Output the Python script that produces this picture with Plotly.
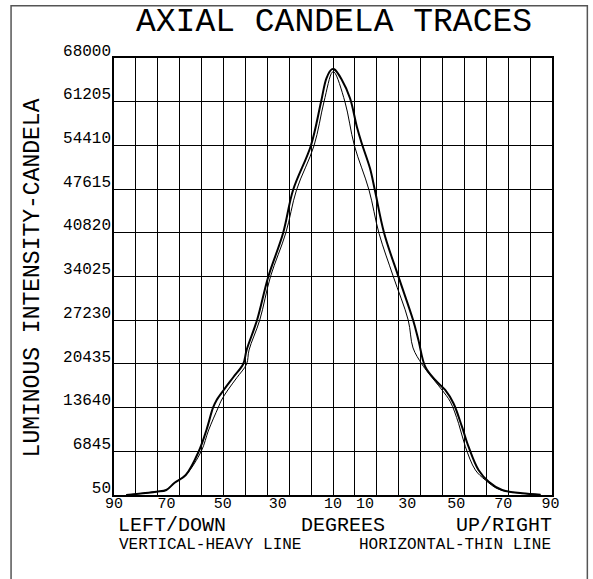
import plotly.graph_objects as go

# ---- data ----
vert_deg = [-85.0, -72.6, -68.5, -65.1, -60.5, -55.1, -52.0, -49.3, -47.8, -44.9, -40.9, -36.9,
            -35.5, -31.2, -26.6, -20.5, -16.4, -9.1, -4.9, -2.7, -0.5, 0.5, 3.5, 7.0, 9.8, 11.8,
            15.2, 17.2, 21.0, 26.9, 32.9, 35.1, 37.9, 42.0, 46.1, 49.5, 53.0, 55.7, 59.8, 64.0,
            69.5, 77.7, 85.3]
vert_cd = [50, 565, 830, 1960, 3160, 6890, 10160, 13625, 14820, 16380, 18400, 20420,
           22600, 27260, 33995, 40790, 47475, 54365, 61205, 64850, 66250, 66250, 64700, 61735, 57320, 54740,
           50850, 47475, 40790, 33995, 27260, 24150, 20000, 17930, 16380, 14310, 10670, 7560, 3940, 2120,
           830, 315, 100]

horiz_deg = [-85.0, -72.6, -68.5, -65.1, -60.5, -54.1, -51.1, -47.2, -45.8, -43.2, -39.5, -35.5,
             -34.5, -30.1, -25.7, -19.4, -15.0, -7.8, -3.7, -0.3, 0.5, 4.9, 8.8, 14.8, 18.9, 24.8,
             30.9, 32.9, 36.5, 39.3, 44.8, 48.2, 51.6, 54.4, 58.5, 62.6, 68.1, 77.7, 85.3]
horiz_cd = [50, 565, 830, 1960, 3160, 6890, 10160, 13625, 14820, 16380, 18300, 20420,
            22600, 27260, 33995, 40790, 47475, 54365, 61205, 65800, 65800, 61205, 54365, 47475, 40745, 33995,
            27260, 22910, 20420, 18975, 16380, 14560, 11200, 7560, 3940, 2380, 935, 315, 100]

y_ticks = [50, 6845, 13640, 20435, 27230, 34025, 40820, 47615, 54410, 61205, 68000]
y_tick_text = ["50", "6845", "13640", "20435", "27230", "34025", "40820", "47615", "54410", "61205", "68000"]

x_label_pos = [-90, -68.4, -45.3, -22.7, 0, 13.2, 30.5, 50.7, 70.0, 89.4]
x_label_text = ["90", "70", "50", "30", "10", "10", "30", "50", "70", "90"]

FONT = "Liberation Mono"

W, H = 593, 579
PL, PR, PT, PB = 114.3, 551.7, 58, 495   # plot area in pixels
L, R, T, B = PL, W - PR, PT, H - PB

def px(x):
    return (x - PL) / (PR - PL)

def py(y):
    return (PB - y) / (PB - PT)

fig = go.Figure()
fig.add_trace(go.Scatter(x=vert_deg, y=vert_cd, mode="lines",
                         line=dict(color="black", width=2, shape="spline", smoothing=1.0),
                         name="VERTICAL", showlegend=False, hoverinfo="skip"))
fig.add_trace(go.Scatter(x=horiz_deg, y=horiz_cd, mode="lines",
                         line=dict(color="black", width=1, shape="spline", smoothing=1.0),
                         name="HORIZONTAL", showlegend=False, hoverinfo="skip"))
fig.add_trace(go.Scatter(x=[-90, 90], y=[None, None], xaxis="x2", mode="lines",
                         showlegend=False, hoverinfo="skip"))

fig.update_layout(
    width=W, height=H,
    margin=dict(l=L, r=R, t=T, b=B, pad=0, autoexpand=False),
    paper_bgcolor="white", plot_bgcolor="white",
    font=dict(family=FONT, color="black"),
    xaxis=dict(range=[-90, 90], tickmode="linear", tick0=-90, dtick=9, showticklabels=False,
               showgrid=True, gridcolor="black", gridwidth=1, zeroline=False,
               showline=True, linecolor="black", linewidth=1.5, mirror=True, ticks=""),
    xaxis2=dict(range=[-90, 90], overlaying="x", anchor="y", side="bottom", tickmode="array",
                tickvals=x_label_pos, ticktext=x_label_text, showgrid=False, zeroline=False,
                showline=False, ticks="", tickfont=dict(family=FONT, size=15, color="black"),
                ticklabelstandoff=-3),
    yaxis=dict(range=[50, 68000], tickmode="array", tickvals=y_ticks, ticktext=y_tick_text,
               showgrid=True, gridcolor="black", gridwidth=1, zeroline=False,
               showline=True, linecolor="black", linewidth=1.5, mirror=True, ticks="",
               tickfont=dict(family=FONT, size=16, color="black"), ticklabelshift=-8,
               ticklabelstandoff=-2),
    showlegend=False,
)

# outer drawing frame
fig.add_shape(type="rect", xref="paper", yref="paper", x0=px(11.5), x1=px(587), y0=py(640), y1=py(5.7),
              line=dict(color="#555555", width=1.5), fillcolor="rgba(0,0,0,0)", layer="below")

ann = [
    ("AXIAL CANDELA TRACES", 333.5, 23, 33, 0),
    ("LEFT/DOWN", 172.4, 525, 20, 0),
    ("DEGREES", 342.5, 525, 20, 0),
    ("UP/RIGHT", 503.5, 525, 20, 0),
    ("VERTICAL-HEAVY LINE", 210.4, 545, 16, 0),
    ("HORIZONTAL-THIN LINE", 454.4, 545, 16, 0),
    ("LUMINOUS INTENSITY-CANDELA", 33.3, 277.5, 23, -90),
]
for text, x, y, size, ang in ann:
    fig.add_annotation(text=text, xref="paper", yref="paper", x=px(x), y=py(y),
                       xanchor="center", yanchor="middle", showarrow=False, textangle=ang,
                       font=dict(family=FONT, size=size, color="black"))

fig.write_html("out.html", config={"displayModeBar": False},
               post_script="document.body.style.margin='0';")
